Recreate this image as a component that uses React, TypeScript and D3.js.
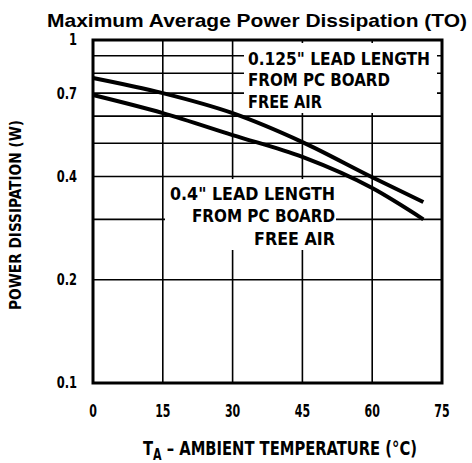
import React from "react";
import * as d3 from "d3";

// temperature (°C) vs max average power (W)
const temps = [0, 15, 30, 45, 60, 71];
const lead0125 = [0.775, 0.7, 0.612, 0.504, 0.398, 0.337];
const lead04 = [0.691, 0.612, 0.528, 0.456, 0.37, 0.3];

const xTicks = [0, 15, 30, 45, 60, 75];
const yTickLabels = [1, 0.7, 0.4, 0.2, 0.1];
const yGrid = [0.2, 0.3, 0.4, 0.5, 0.6, 0.7, 0.8, 0.9];

const W = 472;
const H = 463;
const margin = { top: 40, right: 30, bottom: 80, left: 93 };

const cond = "'Liberation Sans Narrow', 'DejaVu Sans Condensed', 'Roboto Condensed', 'Arial Narrow', sans-serif";

const App: React.FC = () => {
  const x = d3.scaleLinear().domain([0, 75]).range([margin.left, 442]);
  const y = d3.scaleLog().domain([0.1, 1]).range([383, margin.top]);

  const line = d3
    .line<[number, number]>()
    .x(d => x(d[0]))
    .y(d => y(d[1]))
    .curve(d3.curveMonotoneX);

  const upper = temps.map((t, i) => [t, lead0125[i]] as [number, number]);
  const lower = temps.map((t, i) => [t, lead04[i]] as [number, number]);

  return (
    <svg
      width={W}
      height={H}
      style={{ position: "absolute", left: 0, top: 0, background: "#fff" }}
    >
      <text
        x={47}
        y={27}
        fontFamily="'Liberation Sans', Arial, sans-serif"
        fontWeight="bold"
        fontSize={19}
        textLength={420}
        lengthAdjust="spacingAndGlyphs"
      >
        Maximum Average Power Dissipation (TO)
      </text>

      {/* grid */}
      {xTicks.slice(1, -1).map(t => (
        <line key={"vx" + t} x1={x(t)} x2={x(t)} y1={y(1)} y2={y(0.1)} stroke="#000" strokeWidth={1.6} />
      ))}
      {yGrid.map(v => (
        <line key={"hy" + v} x1={x(0)} x2={x(75)} y1={y(v)} y2={y(v)} stroke="#000" strokeWidth={1.6} />
      ))}

      {/* label knockouts */}
      <rect x={244} y={43} width={193} height={70} fill="#fff" />
      <rect x={165} y={179} width={171} height={71} fill="#fff" />

      {/* curves */}
      <path d={line(upper) ?? ""} fill="none" stroke="#000" strokeWidth={4} />
      <path d={line(lower) ?? ""} fill="none" stroke="#000" strokeWidth={4} />

      {/* frame */}
      <rect
        x={x(0)}
        y={y(1)}
        width={x(75) - x(0)}
        height={y(0.1) - y(1)}
        fill="none"
        stroke="#000"
        strokeWidth={3}
      />

      <g fontFamily={cond} fontWeight="bold" fontSize={17.5} fill="#000">
        <text x={248} y={65} textLength={182} lengthAdjust="spacingAndGlyphs">0.125" LEAD LENGTH</text>
        <text x={248} y={86} textLength={142} lengthAdjust="spacingAndGlyphs">FROM PC BOARD</text>
        <text x={248} y={108} textLength={74} lengthAdjust="spacingAndGlyphs">FREE AIR</text>

        <text x={170} y={200} textLength={165} lengthAdjust="spacingAndGlyphs">0.4" LEAD LENGTH</text>
        <text x={335} y={222} textAnchor="end" textLength={143} lengthAdjust="spacingAndGlyphs">FROM PC BOARD</text>
        <text x={335} y={245} textAnchor="end" textLength={81} lengthAdjust="spacingAndGlyphs">FREE AIR</text>
      </g>

      {/* y tick labels */}
      <g fontFamily={cond} fontWeight="bold" fontSize={15} textAnchor="end">
        {yTickLabels.map(v => (
          <text key={"yl" + v} transform={`translate(77,${y(v)}) scale(0.85,1)`} dy="0.36em">
            {v}
          </text>
        ))}
      </g>

      {/* x tick labels */}
      <g fontFamily={cond} fontWeight="bold" fontSize={18} textAnchor="middle">
        {xTicks.map(t => (
          <text key={"xl" + t} transform={`translate(${x(t)},417) scale(0.68,1)`}>
            {t}
          </text>
        ))}
      </g>

      <text
        transform="translate(21,215) rotate(-90)"
        textAnchor="middle"
        fontFamily={cond}
        fontWeight="bold"
        fontSize={15}
        textLength={190}
        lengthAdjust="spacingAndGlyphs"
      >
        POWER DISSIPATION (W)
      </text>

      <g transform="translate(143,455) scale(0.82,1)">
        <text x={0} y={0} fontFamily={cond} fontWeight="bold" fontSize={20}>
          T
          <tspan fontSize={15} dy={5}>A</tspan>
          <tspan dy={-5}> – AMBIENT TEMPERATURE (°C)</tspan>
        </text>
      </g>
    </svg>
  );
};

export default App;
